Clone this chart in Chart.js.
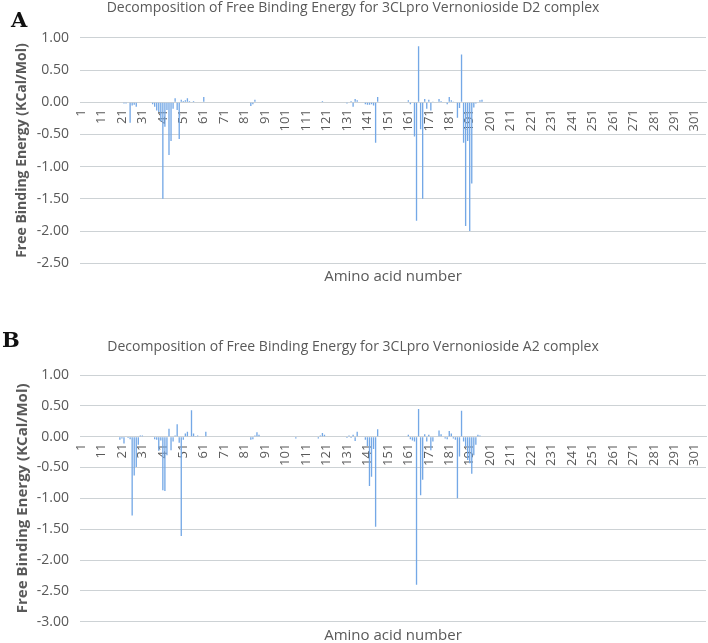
<!DOCTYPE html>
<html>
<head>
<meta charset="utf-8">
<script src="https://cdn.jsdelivr.net/npm/chart.js@4.4.0/dist/chart.umd.min.js"></script>
<style>
  body { margin: 0; width: 708px; height: 643px; overflow: hidden; background: #fff; position: relative; }
  .panel { position: absolute; left: 0; width: 708px; }
  .tag { position: absolute; font-family: "DejaVu Serif"; font-weight: bold; font-size: 21px; line-height: 1; color: #111; }
</style>
</head>
<body>
<div class="panel" style="top:0px;height:290px"><canvas id="chartA" width="708" height="290"></canvas></div>
<div class="panel" style="top:300px;height:345px"><canvas id="chartB" width="708" height="345"></canvas></div>
<div class="tag" style="left:11px;top:9px">A</div>
<div class="tag" style="left:2px;top:329px">B</div>
<script>
// amino acid numbers 1..306 on the x axis
var residues = [];
for (var i = 1; i <= 306; i++) residues.push(String(i));

// panel A - Vernonioside D2 (only residues with a visible bar)
var d2Residues = [22, 23, 25, 26, 27, 28,
  36, 37, 38, 39, 40, 41, 42, 43, 44, 45, 46, 47, 48, 49, 50,
  51, 52, 53, 54, 56, 61, 84, 85, 86, 119,
  131, 133, 134, 135, 136, 140, 141, 142, 143, 144, 145, 146,
  161, 162, 164, 165, 166, 167, 168, 169, 170, 171, 172, 173,
  176, 177, 180, 181, 182, 183, 185, 186, 187, 188, 189, 190,
  191, 192, 193, 194, 196, 197];
var d2Energy = [-0.02, -0.02, -0.32, -0.05, -0.04, -0.07,
  -0.03, -0.07, -0.13, -0.15, -0.30, -1.50, -0.38, -0.12, -0.82, -0.60, -0.10, 0.06, -0.12, -0.57, 0.04,
  0.02, 0.03, 0.06, 0.02, 0.02, 0.08, -0.06, -0.03, 0.04, 0.02,
  -0.02, 0.02, -0.07, 0.05, 0.03, -0.03, -0.04, -0.04, -0.03, -0.05, -0.63, 0.08,
  0.03, -0.03, -0.53, -1.84, 0.87, -0.42, -1.50, 0.05, -0.10, 0.04, -0.13, 0.01,
  0.05, 0.02, -0.03, 0.08, 0.03, 0.01, -0.24, -0.09, 0.74, -0.63, -1.92, -0.60,
  -2.00, -1.26, -0.08, -0.02, 0.03, 0.04];

// panel B - Vernonioside A2
var a2Residues = [20, 21, 22, 24, 25, 26, 27, 28, 29, 30, 31,
  37, 38, 39, 40, 41, 42, 43, 44, 45, 46, 47, 48, 49, 50,
  51, 52, 53, 55, 56, 57, 58, 62, 84, 85, 86, 87, 88,
  106, 117, 118, 119, 120, 131, 132, 133, 134, 135, 136,
  140, 141, 142, 143, 144, 145, 146,
  161, 162, 163, 164, 165, 166, 167, 168, 169, 170, 171, 172, 173,
  176, 177, 179, 180, 181, 182, 183, 184, 185, 186, 187, 188, 189, 190,
  191, 192, 193, 194, 195, 196];
var a2Energy = [-0.05, -0.03, -0.11, -0.02, -0.04, -1.28, -0.63, -0.49, -0.13, 0.02, 0.02,
  -0.04, -0.05, -0.23, -0.06, -0.87, -0.88, -0.30, 0.13, -0.22, -0.08, 0.02, 0.20, -0.10, -1.61,
  -0.05, 0.05, 0.08, 0.43, 0.05, 0.01, 0.02, 0.08, -0.05, -0.04, 0.02, 0.07, 0.03,
  -0.03, -0.03, 0.02, 0.06, 0.03, -0.02, 0.02, -0.02, 0.03, -0.07, 0.08,
  -0.05, -0.15, -0.80, -0.65, -0.20, -1.46, 0.12,
  0.03, -0.04, -0.06, -0.08, -2.40, 0.45, -0.95, -0.70, 0.04, -0.08, 0.03, -0.22, -0.08,
  0.10, 0.04, -0.03, -0.04, 0.09, 0.05, -0.03, -0.05, -1.00, -0.32, 0.42, -0.08, -0.16, -0.38,
  -0.43, -0.60, -0.30, -0.13, 0.03, 0.02];

var gridColor = '#cdd2d5';
var textColor = '#595959';

function fullSeries(resList, valList) {
  var out = residues.map(function () { return 0; });
  for (var k = 0; k < resList.length; k++) {
    out[resList[k] - 1] = valList[k];
  }
  return out;
}

function makeChart(id, cfg) {
  var ctx = document.getElementById(id).getContext('2d');
  return new Chart(ctx, {
    type: 'bar',
    data: {
      labels: residues,
      datasets: [{
        data: fullSeries(cfg.res, cfg.vals),
        backgroundColor: '#74a8e6',
        barPercentage: 0.65,
        categoryPercentage: 1
      }]
    },
    options: {
      responsive: false,
      animation: false,
      layout: { padding: { left: 0, right: 2, top: 0, bottom: 0 } },
      plugins: {
        legend: { display: false },
        tooltip: { enabled: false },
        title: {
          display: true,
          text: cfg.title,
          color: textColor,
          font: { family: 'Open Sans', size: 14, weight: 'normal' },
          padding: cfg.titlePad
        },
        subtitle: {
          display: true,
          position: 'bottom',
          fullSize: false,
          text: 'Amino acid number',
          color: textColor,
          font: { family: 'Open Sans', size: 15, weight: 'normal' },
          padding: cfg.xTitlePad
        }
      },
      scales: {
        x: {
          position: { y: 0 },
          grid: { display: false, drawTicks: false },
          border: { display: true, color: gridColor },
          ticks: {
            autoSkip: false,
            minRotation: 90,
            maxRotation: 90,
            padding: 7,
            color: textColor,
            font: { family: 'Open Sans', size: 13 },
            callback: function (v, idx) {
              return idx % 10 === 0 ? residues[idx] : '';
            }
          },
          // the rotated labels should not shrink the plot width
          afterFit: function (scale) {
            scale.paddingLeft = 0;
            scale.paddingRight = 0;
          }
        },
        y: {
          min: cfg.min,
          max: 1,
          grid: { color: gridColor, drawTicks: false },
          border: { display: false },
          ticks: {
            stepSize: 0.5,
            padding: 11,
            color: textColor,
            font: { family: 'Open Sans', size: 14 },
            callback: function (v) { return v.toFixed(2); }
          },
          title: {
            display: true,
            text: 'Free Binding Energy (KCal/Mol)',
            color: textColor,
            font: { family: 'Open Sans', size: cfg.yTitleSize, weight: 'bold' },
            padding: { top: 14, bottom: 0 }
          },
          afterFit: function (scale) { scale.width = 80; }
        }
      }
    }
  });
}

makeChart('chartA', {
  res: d2Residues, vals: d2Energy, min: -2.5,
  title: 'Decomposition of Free Binding Energy for 3CLpro Vernonioside D2 complex',
  titlePad: { top: 0, bottom: 21 },
  xTitlePad: { top: 4.7, bottom: 4 },
  yTitleSize: 14
});

makeChart('chartB', {
  res: a2Residues, vals: a2Energy, min: -3,
  title: 'Decomposition of Free Binding Energy for 3CLpro Vernonioside A2 complex',
  titlePad: { top: 38.6, bottom: 19.6 },
  xTitlePad: { top: 5.3, bottom: 0 },
  yTitleSize: 15
});
</script>
</body>
</html>
